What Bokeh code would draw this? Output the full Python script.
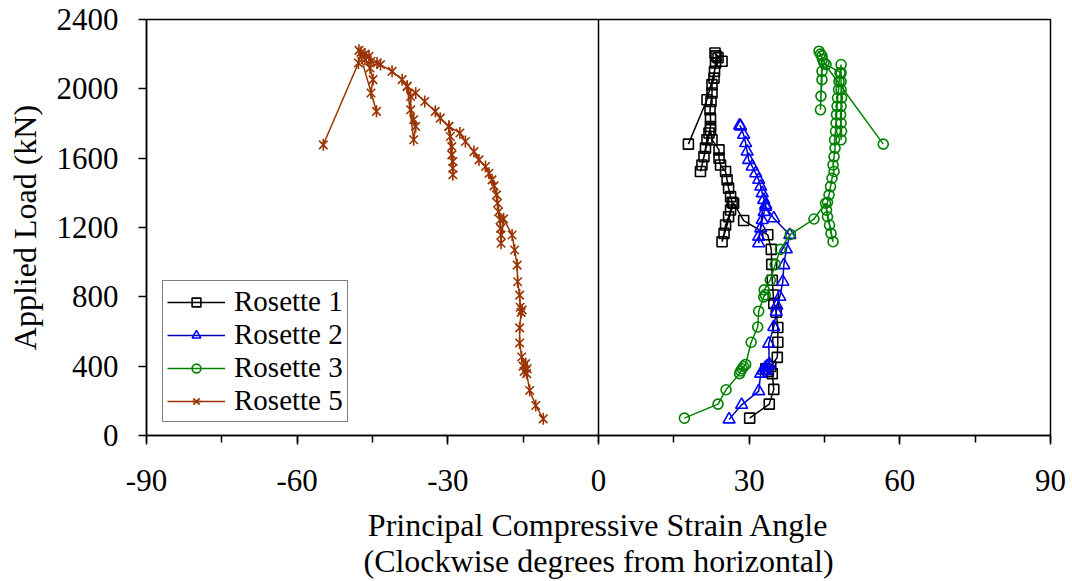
import math
from bokeh.plotting import figure
from bokeh.models import Range1d, SingleIntervalTicker, Span, Legend, LegendItem, PrintfTickFormatter
from bokeh.embed import file_html
from bokeh.resources import INLINE

# Rosette 1 (angle in degrees, load in kN)
r1_angle = [30.1, 34.0, 34.9, 34.6, 33.8, 33.3, 34.3, 35.6, 35.7, 35.7, 35.4, 34.9, 34.8, 34.6, 34.5, 34.4,
            33.7, 28.9, 26.9, 24.6, 25.0, 25.3, 25.9, 26.3, 26.6, 26.3, 25.9, 25.6, 25.3, 24.3, 24.0, 24.0,
            22.6, 22.3, 20.3, 20.6, 21.0, 21.3, 21.6, 22.0, 22.3, 22.3, 22.2, 22.4, 22.6, 22.6, 23.0, 23.1,
            23.3, 23.4, 23.2, 24.6, 23.8, 21.6, 17.9]
r1_load = [100, 181, 266, 357, 370, 385, 398, 451, 538, 623, 711, 762, 811, 896, 987, 1074,
           1158, 1240, 1340, 1118, 1166, 1214, 1262, 1301, 1345, 1378, 1427, 1475, 1523, 1561, 1600, 1648,
           1706, 1764, 1523, 1561, 1609, 1658, 1706, 1745, 1783, 1831, 1879, 1927, 1976, 2024, 2062, 2101,
           2149, 2190, 2207, 2159, 2180, 1937, 1681]

# Rosette 2
r2_angle = [26.0, 28.5, 31.9, 32.3, 32.8, 33.2, 33.6, 33.4, 34.0, 33.9, 34.9, 35.4, 35.5, 36.1, 36.7, 36.9,
            37.4, 38.1, 34.9, 33.3, 32.9, 31.9, 31.9, 32.3, 32.6, 33.0, 33.3, 32.6, 32.3, 31.9, 31.3, 30.6,
            29.9, 29.6, 29.3, 28.9, 28.3, 28.1]
r2_load = [93, 177, 256, 357, 375, 390, 400, 372, 410, 530, 626, 713, 750, 800, 887, 983,
           1074, 1157, 1253, 1320, 1359, 1109, 1147, 1195, 1243, 1290, 1330, 1398, 1436, 1475, 1513, 1552,
           1590, 1638, 1687, 1735, 1783, 1789]

# Rosette 3
r3_angle = [17.1, 23.8, 25.4, 28.1, 28.3, 28.6, 28.9, 29.3, 30.4, 31.7, 31.9, 32.9, 33.2, 33.0, 34.2, 35.2,
            36.2, 38.2, 42.9, 45.2, 46.7, 46.3, 46.0, 45.6, 45.4, 45.6, 45.9, 46.2, 46.5, 46.9, 46.7, 46.9,
            47.1, 47.0, 47.2, 47.3, 47.4, 47.5, 47.6, 47.8, 47.9, 48.1, 48.3, 48.3, 48.4, 48.3, 48.2, 48.3,
            48.4, 48.3, 48.3, 48.3, 45.3, 44.6, 43.9, 44.2, 44.5, 44.2, 44.3, 44.5, 44.5, 44.9, 56.7]
r3_load = [100, 181, 264, 357, 372, 385, 398, 410, 538, 626, 717, 800, 812, 840, 896, 987,
           1074, 1160, 1249, 1340, 1118, 1166, 1214, 1262, 1300, 1345, 1388, 1436, 1484, 1523, 1561, 1609,
           1658, 1706, 1755, 1803, 1851, 1899, 1947, 1995, 2043, 2092, 2140, 1706, 1755, 1803, 1851, 1899,
           1947, 1995, 2043, 2092, 2140, 2170, 2217, 2200, 2190, 1879, 1958, 2053, 2101, 2149, 1681]

# Rosette 5
r5_angle = [-11.0, -12.5, -13.7, -14.3, -14.8, -14.2, -15.0, -14.5, -15.3, -15.7, -15.7, -15.4, -15.2, -15.6,
            -15.7, -16.1, -16.2, -16.7, -17.2, -18.9, -19.4, -19.4, -19.5, -19.6, -19.9, -20.1, -20.3, -20.8,
            -21.2, -21.8, -22.5, -23.8, -24.8, -26.5, -27.6, -29.8, -29.0, -29.0, -29.0, -29.2, -29.2, -29.5,
            -29.8, -31.5, -32.5, -34.6, -36.4, -38.1, -36.8, -36.4, -36.8, -37.4, -37.4, -38.1, -39.1, -41.1,
            -43.4, -44.1, -45.3, -45.7, -46.5, -47.7, -44.2, -45.3, -44.9, -45.5, -46.5, -47.3, -47.8, -54.8]
r5_load = [96, 173, 260, 357, 370, 385, 400, 415, 453, 534, 621, 710, 725, 740,
           810, 887, 983, 1070, 1157, 1250, 1109, 1157, 1195, 1243, 1291, 1340, 1388, 1440,
           1475, 1513, 1552, 1590, 1638, 1696, 1745, 1783, 1504, 1542, 1581, 1619, 1667, 1725,
           1783, 1831, 1870, 1927, 1976, 2014, 1706, 1783, 1822, 1879, 1956, 2014, 2053, 2101,
           2140, 2149, 2159, 2188, 2200, 2222, 1870, 1976, 2053, 2120, 2170, 2210, 2149, 1677]

series_names = ["Rosette 1", "Rosette 2", "Rosette 3", "Rosette 5"]
x_label = "Principal Compressive Strain Angle\n(Clockwise degrees from horizontal)"
y_label = "Applied Load (kN)"

FONT = "Liberation Serif"

p = figure(width=1072, height=581, output_backend="svg", toolbar_location=None,
           x_range=Range1d(-90, 90), y_range=Range1d(0, 2400),
           min_border_left=146, min_border_right=22, min_border_top=19, min_border_bottom=146)
p.background_fill_color = "white"
p.border_fill_color = "white"
p.outline_line_color = "black"
p.outline_line_width = 1.5
p.xgrid.visible = False
p.ygrid.visible = False

p.xaxis.ticker = SingleIntervalTicker(interval=30, num_minor_ticks=2)
p.yaxis.ticker = SingleIntervalTicker(interval=400, num_minor_ticks=0)
for ax in (p.xaxis, p.yaxis):
    ax.formatter = PrintfTickFormatter(format="%d")
    ax.axis_line_color = "black"
    ax.axis_line_width = 1.5
    ax.major_tick_line_color = "black"
    ax.major_tick_line_width = 1.5
    ax.minor_tick_line_color = "black"
    ax.minor_tick_line_width = 1.5
    ax.major_tick_in = 0
    ax.minor_tick_in = 0
    ax.major_label_text_font = FONT
    ax.major_label_text_font_size = "31px"
    ax.major_label_text_color = "black"
    ax.axis_label_text_font = FONT
    ax.axis_label_text_font_size = "32px"
    ax.axis_label_text_font_style = "normal"
    ax.axis_label_text_color = "black"
    ax.axis_label_text_line_height = 1.0

p.xaxis.major_tick_out = 9
p.xaxis.minor_tick_out = 7
p.yaxis.major_tick_out = 8
p.yaxis.minor_tick_out = 0
p.xaxis.major_label_standoff = 25
p.yaxis.major_label_standoff = 20
p.xaxis.axis_label = x_label
p.yaxis.axis_label = y_label
p.xaxis.axis_label_standoff = 13
p.yaxis.axis_label_standoff = 11

p.add_layout(Span(location=0, dimension="height", line_color="black", line_width=1.5))

styles = [
    dict(markers=[("square", 0.0)], line_color="black", mcolor="black", size=10),
    dict(markers=[("triangle", 0.0)], line_color="#0000B0", mcolor="#0000FF", size=12),
    dict(markers=[("circle", 0.0)], line_color="#008000", mcolor="#008000", size=10),
    dict(markers=[("x", 0.0), ("dash", math.pi / 2)], line_color="#993300", mcolor="#993300", size=12),
]
data = [(r1_angle, r1_load), (r2_angle, r2_load), (r3_angle, r3_load), (r5_angle, r5_load)]

items = []
for name, (xs, ys), st in zip(series_names, data, styles):
    ln = p.line(xs, ys, line_color=st["line_color"], line_width=1.5)
    rends = [ln]
    for mk, ang in st["markers"]:
        sc = p.scatter(xs, ys, marker=mk, angle=ang, size=st["size"], line_color=st["mcolor"],
                       fill_alpha=0, line_width=1.6)
        rends.append(sc)
    items.append(LegendItem(label=name, renderers=rends))

legend = Legend(items=items, location=(16, 13), margin=0, padding=4, spacing=0,
                glyph_width=58, glyph_height=22, label_standoff=9,
                label_text_font=FONT, label_text_font_size="29px", label_text_color="black",
                border_line_color="black", border_line_width=1, background_fill_color="white",
                background_fill_alpha=1)
p.add_layout(legend)

open("out.html", "w").write(file_html(p, INLINE))
